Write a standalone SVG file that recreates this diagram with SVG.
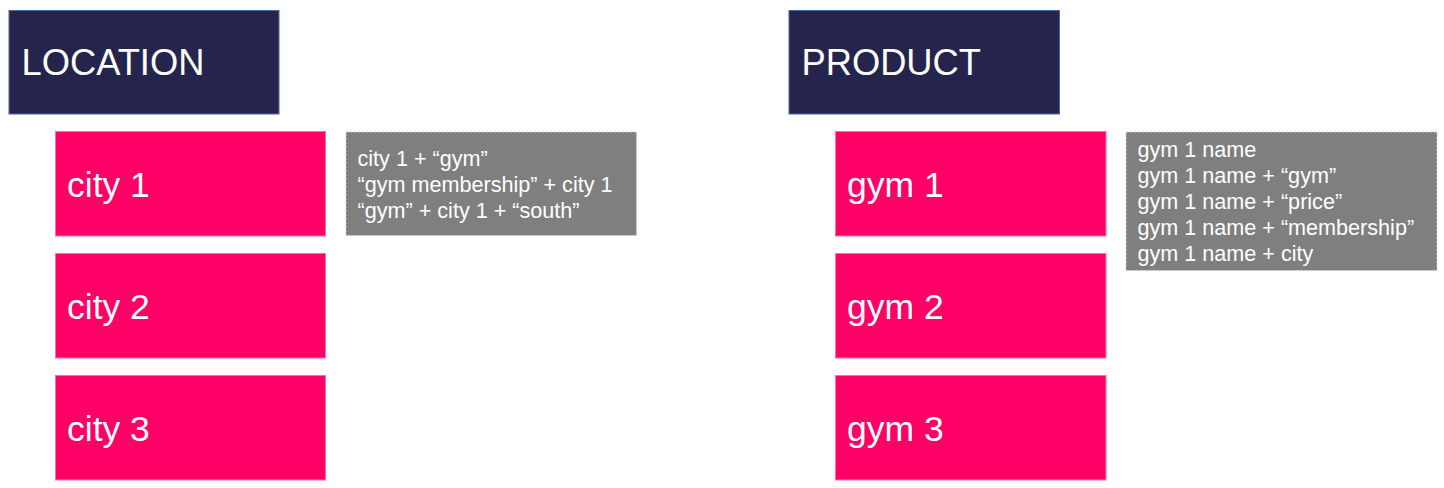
<svg xmlns="http://www.w3.org/2000/svg" width="1444" height="488" viewBox="0 0 1444 488">
<style>
.hdr{fill:#25244d;stroke:#4a6796;stroke-width:1}
.item{fill:#ff0066;stroke:#ff6fa3;stroke-width:1}
.note{fill:#7f7f7f;stroke:#d6d6d6;stroke-width:1;stroke-dasharray:2 2}
.ht{font-family:"Liberation Sans",Arial,sans-serif;font-size:36.3px;fill:#ffffff}
.it{font-family:"Liberation Sans",Arial,sans-serif;font-size:35.5px;fill:#ffffff}
.nt{font-family:"Liberation Sans",Arial,sans-serif;font-size:21.6px;fill:#ffffff}
</style>
<rect width="1444" height="488" fill="#ffffff"/>
<g id="location">
<rect class="hdr" x="9" y="10.5" width="270" height="103.5"/>
<text class="ht" x="21.5" y="74.5">LOCATION</text>
</g>
<g id="city1">
<rect class="item" x="55.5" y="131.5" width="270" height="104.5"/>
<text class="it" x="67" y="197">city 1</text>
</g>
<g id="city2">
<rect class="item" x="55.5" y="253.5" width="270" height="104.5"/>
<text class="it" x="67" y="319">city 2</text>
</g>
<g id="city3">
<rect class="item" x="55.5" y="375.5" width="270" height="104.5"/>
<text class="it" x="67" y="441">city 3</text>
</g>
<g id="city-note">
<rect class="note" x="346" y="132" width="290.5" height="103.5"/>
<text class="nt" x="357.5" y="166">city 1 + “gym”</text>
<text class="nt" x="357.5" y="192">“gym membership” + city 1</text>
<text class="nt" x="357.5" y="218">“gym” + city 1 + “south”</text>
</g>
<g id="product">
<rect class="hdr" x="789" y="10.5" width="270.5" height="103.5"/>
<text class="ht" x="801.5" y="74.5">PRODUCT</text>
</g>
<g id="gym1">
<rect class="item" x="835.5" y="131.5" width="270.5" height="104.5"/>
<text class="it" x="847" y="197">gym 1</text>
</g>
<g id="gym2">
<rect class="item" x="835.5" y="253.5" width="270.5" height="104.5"/>
<text class="it" x="847" y="319">gym 2</text>
</g>
<g id="gym3">
<rect class="item" x="835.5" y="375.5" width="270.5" height="104.5"/>
<text class="it" x="847" y="441">gym 3</text>
</g>
<g id="gym-note">
<rect class="note" x="1126" y="132" width="311" height="138.5"/>
<text class="nt" x="1137.5" y="157">gym 1 name</text>
<text class="nt" x="1137.5" y="183">gym 1 name + “gym”</text>
<text class="nt" x="1137.5" y="209">gym 1 name + “price”</text>
<text class="nt" x="1137.5" y="235">gym 1 name + “membership”</text>
<text class="nt" x="1137.5" y="261">gym 1 name + city</text>
</g>
<g id="connectors"></g>
</svg>
